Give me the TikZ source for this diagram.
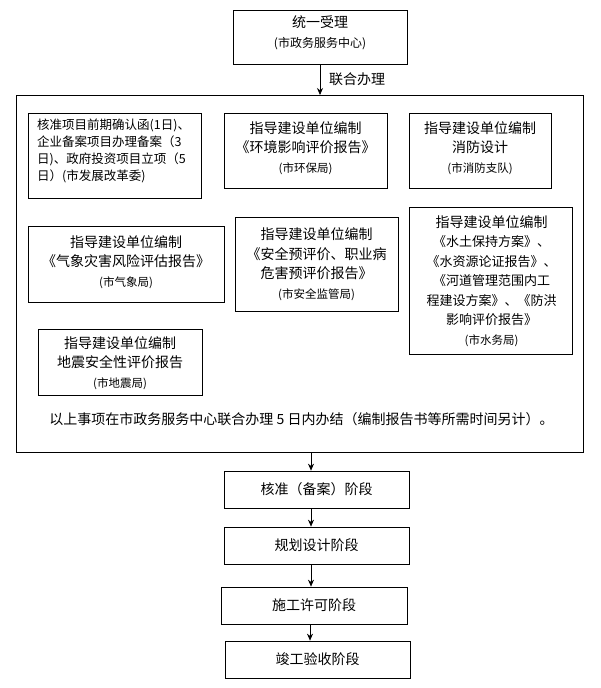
\documentclass[tikz,border=0pt]{standalone}
\usepackage{fontspec}
\setmainfont{Noto Sans CJK SC}
\usetikzlibrary{arrows.meta}
\tikzset{
  box/.style={draw, line width=0.7pt, inner sep=0pt},
  txt/.style={align=center, inner sep=0pt, font=\fontsize{14}{19.5}\selectfont},
  arr/.style={line width=0.7pt, -{Stealth[length=7pt,width=6pt]}},
}
\newcommand{\agency}[1]{{\fontsize{11.5}{19.5}\selectfont #1}}
\newcommand{\midline}[1]{{\fontsize{13}{19.5}\selectfont #1}}
\begin{document}
\begin{tikzpicture}[x=1pt,y=-1pt]
\useasboundingbox (0,0) rectangle (600,688);
% top box
\node[box, minimum width=174pt, minimum height=54pt] (tb) at (320,37) {};
\node[txt] (tbt) at (320,33) {统一受理\\{\fontsize{12}{19.5}\selectfont (市政务服务中心)}};
% outer box
\node[box, minimum width=567pt, minimum height=357pt] (outer) at (299.5,273.5) {};
\coordinate (a0) at (320,95);
\draw[arr] (tb.south) -- (a0);
\node[txt, anchor=west] (lh) at (329,79) {联合办理};
% box A
\node[box, minimum width=173pt, minimum height=85pt] (ba) at (114.5,155.5) {};
\node[txt, align=left, anchor=west, font=\fontsize{12.5}{17}\selectfont] (bat) at (37,151) {核准项目前期确认函(1日)、\\企业备案项目办理备案（3\\日)、政府投资项目立项（5\\日）(市发展改革委)};
% box B
\node[box, minimum width=163pt, minimum height=75pt] (bb) at (305.5,150.5) {};
\node[txt] (bbt) at (305.5,148) {指导建设单位编制\\《环境影响评价报告》\\\agency{(市环保局)}};
% box C
\node[box, minimum width=142pt, minimum height=75pt] (bc) at (480,150.5) {};
\node[txt] (bct) at (480,148) {指导建设单位编制\\消防设计\\\agency{(市消防支队)}};
% box D
\node[box, minimum width=196pt, minimum height=76pt] (bd) at (126,264) {};
\node[txt] (bdt) at (126,262) {指导建设单位编制\\《气象灾害风险评估报告》\\\agency{(市气象局)}};
% box E
\node[box, minimum width=163pt, minimum height=94pt] (be) at (316.5,264) {};
\node[txt] (bet) at (316.5,264) {指导建设单位编制\\《安全预评价、职业病\\危害预评价报告》\\\agency{(市安全监管局)}};
% box F
\node[box, minimum width=163pt, minimum height=147pt] (bf) at (490.5,280.5) {};
\node[txt] (bft) at (491.5,281) {指导建设单位编制\\\midline{《水土保持方案》、}\\\midline{《水资源论证报告》、}\\\midline{《河道管理范围内工}\\\midline{程建设方案》、《防洪}\\\midline{影响评价报告》}\\\agency{(市水务局)}};
% box G
\node[box, minimum width=164pt, minimum height=66pt] (bg) at (120,362) {};
\node[txt] (bgt) at (120,363) {指导建设单位编制\\地震安全性评价报告\\\agency{(市地震局)}};
% footer
\node[txt] (foot) at (301.5,419) {以上事项在市政务服务中心联合办理 5 日内办结（编制报告书等所需时间另计）。};
% stages
\node[box, minimum width=185pt, minimum height=37pt, txt] (hz) at (316.5,489.5) {核准（备案）阶段};
\node[box, minimum width=185pt, minimum height=37pt, txt] (gh) at (316.5,545.5) {规划设计阶段};
\node[box, minimum width=186pt, minimum height=37pt, txt] (sg) at (314,605.5) {施工许可阶段};
\node[box, minimum width=185pt, minimum height=37pt, txt] (jg) at (317.5,659.5) {竣工验收阶段};
\coordinate (a1) at (311,452);
\coordinate (a2) at (310,624);
\draw[arr] (a1) -- (a1 |- hz.north);
\draw[arr] (a1 |- hz.south) -- (a1 |- gh.north);
\draw[arr] (a1 |- gh.south) -- (a1 |- sg.north);
\draw[arr] (a2 |- sg.south) -- (a2 |- jg.north);
\end{tikzpicture}
\end{document}
